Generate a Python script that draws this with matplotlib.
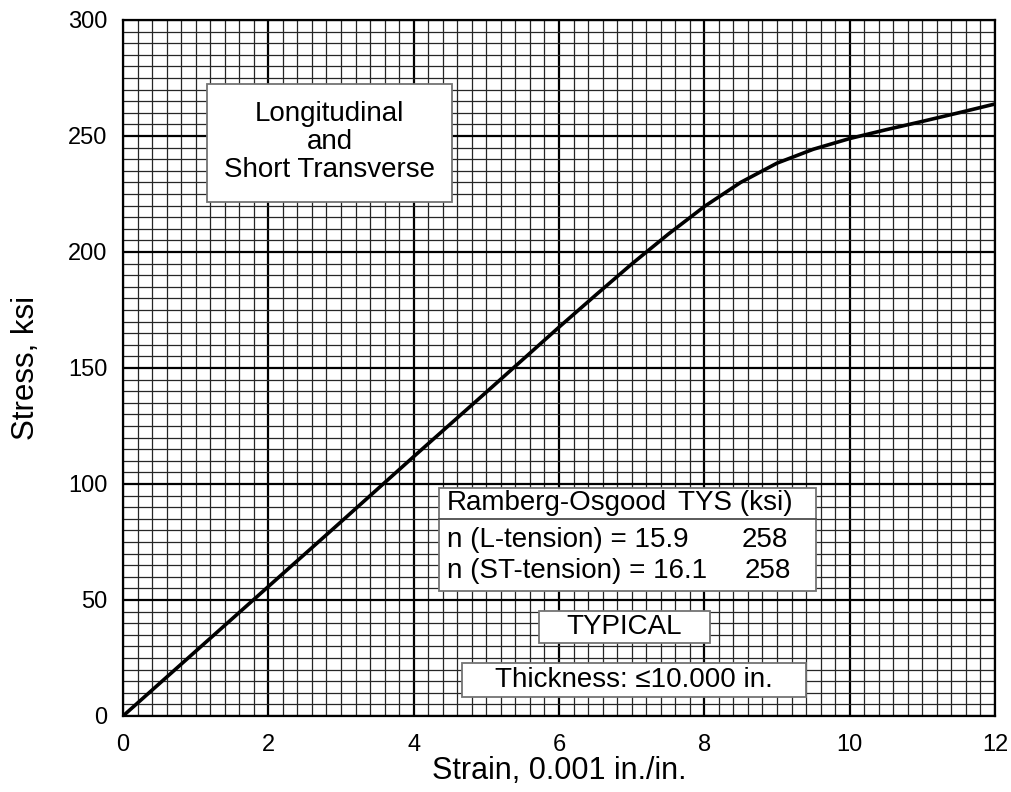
import matplotlib.pyplot as plt
from matplotlib.patches import Rectangle
from matplotlib.ticker import MultipleLocator

# values
strain = [0, 1, 2, 3, 4, 5, 6, 6.5, 7, 7.5, 8, 8.5, 9, 9.5, 10, 10.5, 11, 11.5, 12]
stress = [0, 27.9, 55.8, 83.7, 111.8, 139.6, 167.6, 181.3, 194.8, 207.6,
          219.6, 230.0, 238.3, 244.3, 248.9, 252.7, 256.3, 260.0, 263.8]

xticks = [0, 2, 4, 6, 8, 10, 12]
yticks = [0, 50, 100, 150, 200, 250, 300]

title_lines = ["Longitudinal", "and", "Short Transverse"]
table_header = ("Ramberg-Osgood", "TYS (ksi)")
table_rows = [("n (L-tension) = 15.9", "258"), ("n (ST-tension) = 16.1", "258")]
typical_label = "TYPICAL"
thickness_label = "Thickness: \u226410.000 in."

plt.rcParams["font.family"] = ["Liberation Sans", "DejaVu Sans"]

fig = plt.figure(figsize=(10.12, 7.92), dpi=100)
ax = fig.add_axes([123 / 1012, 1 - 716 / 792, 872 / 1012, 696 / 792])

ax.set_xlim(0, 12)
ax.set_ylim(0, 300)
ax.xaxis.set_minor_locator(MultipleLocator(0.2))
ax.yaxis.set_minor_locator(MultipleLocator(5))
ax.set_xticks(xticks)
ax.set_yticks(yticks)
ax.grid(which="minor", color="0.15", lw=0.9)
ax.grid(which="major", color="black", lw=1.6)
ax.set_axisbelow(True)
ax.tick_params(which="both", length=0, labelsize=17)
ax.tick_params(axis="x", pad=13)
ax.tick_params(axis="y", pad=11)
for s in ax.spines.values():
    s.set_linewidth(1.6)

ax.plot(strain, stress, color="black", lw=2.6, zorder=3,
        solid_joinstyle="round")

ax.set_xlabel("Strain, 0.001 in./in.", fontsize=22, labelpad=0)
ax.set_ylabel("Stress, ksi", fontsize=22.5, labelpad=20)


def px(x, y):
    # pixel position in the reference -> data coordinates
    return (x - 123) / 872 * 12, (716 - y) / 696 * 300


def box(x0, y0, x1, y1):
    a, b = px(x0, y1)
    c, d = px(x1, y0)
    ax.add_patch(Rectangle((a, b), c - a, d - b, facecolor="white",
                           edgecolor="0.45", lw=1.3, zorder=4))


box(207, 84, 452, 202)
cx, cy = px(329.5, 142)
ax.text(cx, cy, "\n".join(title_lines), ha="center", va="center",
        fontsize=20, linespacing=1.1, zorder=5)

box(439, 488, 816, 591)
x0, _ = px(439, 0)
x1, yl = px(816, 519)
ax.plot([x0, x1], [yl, yl], color="0.3", lw=1.3, zorder=5)
tx, ty = px(447, 503)
ax.text(tx, ty, table_header[0], ha="left", va="center", fontsize=20, zorder=5)
tx2, _ = px(678, 0)
ax.text(tx2, ty, table_header[1], ha="left", va="center", fontsize=20, zorder=5)
for (lab, val), ypix, xval in zip(table_rows, [540, 571], [742, 745]):
    a, b = px(447, ypix)
    ax.text(a, b, lab, ha="left", va="center", fontsize=20, zorder=5)
    c, _ = px(xval, ypix)
    ax.text(c, b, val, ha="left", va="center", fontsize=20, zorder=5)

box(539, 611, 710, 643)
a, b = px(624.5, 627)
ax.text(a, b, typical_label, ha="center", va="center", fontsize=20, zorder=5)

box(462, 663, 806, 697)
a, b = px(634, 680)
ax.text(a, b, thickness_label, ha="center", va="center", fontsize=20, zorder=5)

fig.savefig("out.png", dpi=100)
